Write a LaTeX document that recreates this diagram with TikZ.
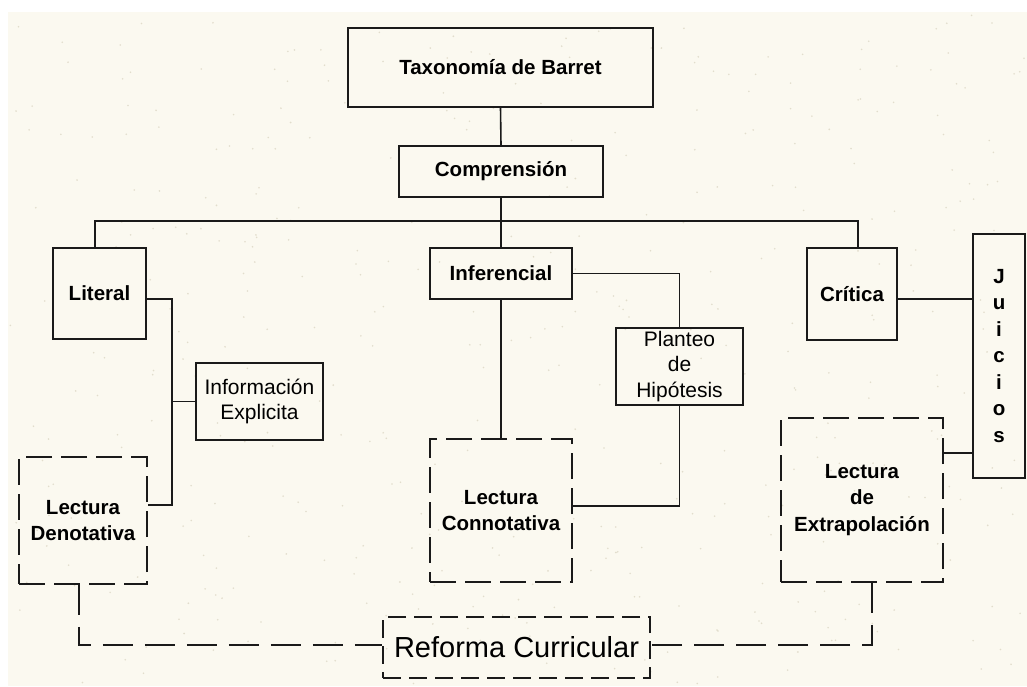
\documentclass[tikz,border=0pt]{standalone}
\usepackage{fontspec}
\setmainfont{Liberation Sans}
\definecolor{cream}{HTML}{FBF9F0}
\definecolor{speck}{HTML}{D8D2BE}
\definecolor{ink}{HTML}{1A1A1A}
\tikzset{
  box/.style={draw=ink, line width=1.6pt, inner sep=0pt, align=center, text=black},
  bfont/.style={font=\bfseries\fontsize{20.5}{26.5}\selectfont},
  rfont/.style={font=\fontsize{21}{25.5}\selectfont},
  dbox/.style={box, dash pattern=on 26pt off 9pt},
  conn/.style={draw=ink, line width=1.6pt},
  dconn/.style={draw=ink, line width=1.6pt, dash pattern=on 30pt off 12pt},
}
\begin{document}
\begin{tikzpicture}[x=1pt,y=-1pt]
\useasboundingbox (0,0) rectangle (1027,686);
\fill[white] (0,0) rectangle (1027,686);
\fill[cream] (8,12) rectangle (1027,686);
\pgfmathsetseed{17}
\foreach \i in {1,...,450}{
  \pgfmathsetmacro{\px}{10+1015*rnd}
  \pgfmathsetmacro{\py}{14+670*rnd}
  \fill[speck, opacity=0.7] (\px,\py) circle (0.9pt);
}

\node[box,bfont,minimum width=305pt,minimum height=79pt] (tax) at (500.5,67.5) {Taxonomía de Barret};
\node[box,bfont,minimum width=204pt,minimum height=51pt] (comp) at (501,171.5) {Comprensión};
\node[box,bfont,minimum width=93pt,minimum height=91pt] (lit) at (99.5,293.5) {Literal};
\node[box,rfont,minimum width=127pt,minimum height=77pt] (info) at (259.5,401.5) {Información\\Explicita};
\node[dbox,bfont,minimum width=128pt,minimum height=127pt] (den) at (83,520.5) {Lectura\\Denotativa};
\node[box,bfont,minimum width=142pt,minimum height=51pt] (inf) at (501,273.5) {Inferencial};
\node[box,rfont,minimum width=127pt,minimum height=77pt] (plan) at (679.5,366.5) {Planteo\\de\\Hipótesis};
\node[dbox,bfont,minimum width=142pt,minimum height=143pt] (con) at (501,510.5) {Lectura\\Connotativa};
\node[box,bfont,minimum width=90pt,minimum height=92pt] (cri) at (852,294) {Crítica};
\node[box,font=\bfseries\fontsize{20.5}{26.5}\selectfont,minimum width=52pt,minimum height=244pt] (jui) at (999,356) {J\\u\\i\\c\\i\\o\\s};
\node[dbox,bfont,minimum width=162pt,minimum height=164pt] (ext) at (862,500) {Lectura\\de\\Extrapolación};
\node[box,font=\fontsize{29}{32}\selectfont,dash pattern=on 18pt off 8pt,minimum width=267pt,minimum height=61pt] (ref) at (516.5,647.5) {Reforma Curricular};

% tree
\draw[conn] (tax.south) -- (comp.north);
\draw[conn] (comp.south) -- ++(0,23) coordinate (bus);
\draw[conn] ([xshift=-4.5pt]lit.north) |- (bus) -| ([xshift=6pt]cri.north);
\draw[conn] (bus) -- (inf.north);

% literal branch
\draw[conn] ([yshift=-5.5pt]lit.east) -| ++(25,0) coordinate (lj) |- ([yshift=15.5pt]den.east);
\draw[conn] (info.west) -- (info.west -| lj);

% inferencial branch
\draw[conn] (inf.south) -- (con.north);
\draw[conn] (inf.east) -| (plan.north);
\draw[conn] (plan.south) |- ([yshift=4.5pt]con.east);

% critica branch
\draw[conn] ([yshift=-5pt]cri.east) -- ([yshift=-5pt]cri.east -| jui.west);
\draw[conn] ([yshift=-97pt]jui.west) -- ([yshift=-97pt]jui.west -| ext.east);

% reforma
\draw[dconn] ([xshift=-4pt]den.south) |- ([yshift=2.5pt]ref.west);
\draw[dconn] ([xshift=10pt]ext.south) |- ([yshift=2.5pt]ref.east);
\end{tikzpicture}
\end{document}
